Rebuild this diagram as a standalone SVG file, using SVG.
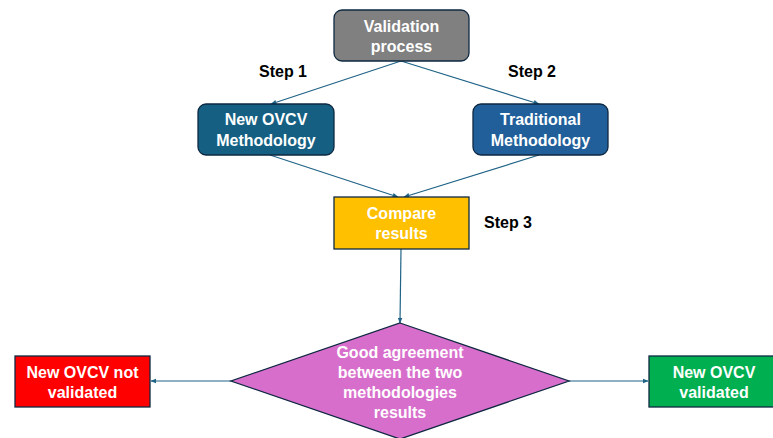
<svg xmlns="http://www.w3.org/2000/svg" width="773" height="438" viewBox="0 0 773 438">
<style>
text{font-family:"Liberation Sans",Arial,sans-serif;font-weight:bold;font-size:16px;text-anchor:middle}
.w{fill:#ffffff}
.k{fill:#000000}
.box{stroke:#0e2841;stroke-width:1.3}
.c{stroke:#1f6386;stroke-width:1.2;fill:none;marker-end:url(#ah)}
</style>
<defs>
<marker id="ah" viewBox="0 0 10 10" refX="9" refY="5" markerWidth="6" markerHeight="6" orient="auto" markerUnits="userSpaceOnUse">
<path d="M0,1 L10,5 L0,9 z" fill="#1f6386"/>
</marker>
</defs>
<rect width="773" height="438" fill="#ffffff"/>
<g id="connectors">
<line class="c" x1="401" y1="61" x2="271" y2="104"/>
<line class="c" x1="401" y1="61" x2="539" y2="104"/>
<line class="c" x1="270" y1="155" x2="398" y2="197"/>
<line class="c" x1="539" y1="155" x2="404" y2="197"/>
<line class="c" x1="401" y1="249" x2="400" y2="323"/>
<line class="c" x1="231" y1="381" x2="151" y2="381"/>
<line class="c" x1="569" y1="381" x2="648" y2="381"/>
</g>
<g id="validation">
<rect class="box" x="334" y="10" width="135" height="51" rx="8" fill="#808080"/>
<text class="w" x="401.5" y="32">Validation</text>
<text class="w" x="401.5" y="52">process</text>
</g>
<g id="step1"><text class="k" x="283" y="77">Step 1</text></g>
<g id="step2"><text class="k" x="532" y="77">Step 2</text></g>
<g id="newovcv">
<rect class="box" x="198" y="104" width="136" height="51" rx="8" fill="#156082"/>
<text class="w" x="266" y="125">New OVCV</text>
<text class="w" x="266" y="146">Methodology</text>
</g>
<g id="traditional">
<rect class="box" x="473" y="104" width="135" height="51" rx="8" fill="#215f9a"/>
<text class="w" x="540.5" y="125">Traditional</text>
<text class="w" x="540.5" y="146">Methodology</text>
</g>
<g id="compare">
<rect class="box" x="334" y="197" width="135" height="52" fill="#ffc000"/>
<text class="w" x="401.5" y="219">Compare</text>
<text class="w" x="401.5" y="239">results</text>
</g>
<g id="step3"><text class="k" x="508" y="228">Step 3</text></g>
<g id="decision">
<polygon class="box" points="400,323 569,381 400,439 231,381" fill="#d86ecc"/>
<text class="w" x="400" y="358">Good agreement</text>
<text class="w" x="400" y="378">between the two</text>
<text class="w" x="400" y="398">methodologies</text>
<text class="w" x="400" y="418">results</text>
</g>
<g id="notvalidated">
<rect class="box" x="15" y="356" width="135" height="51" fill="#ff0000"/>
<text class="w" x="82.5" y="378">New OVCV not</text>
<text class="w" x="82.5" y="398">validated</text>
</g>
<g id="validated">
<rect class="box" x="649" y="356" width="131" height="51" fill="#00b050"/>
<text class="w" x="714" y="378">New OVCV</text>
<text class="w" x="714" y="398">validated</text>
</g>
</svg>
